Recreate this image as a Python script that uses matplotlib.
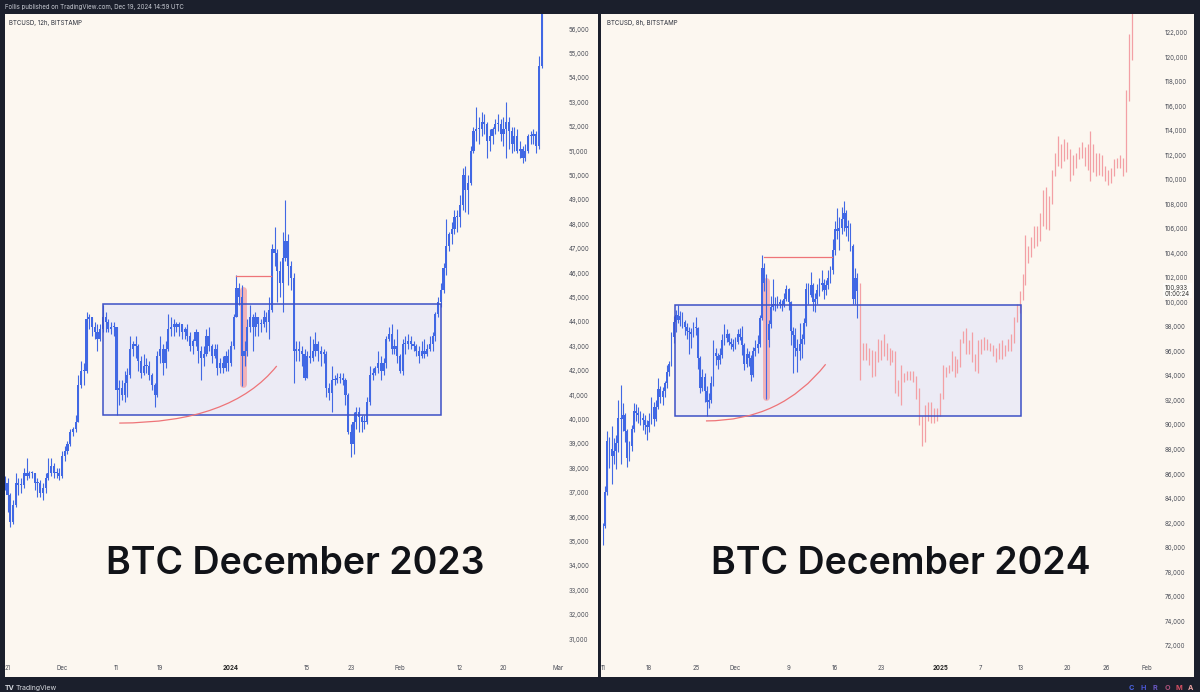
import numpy as np
import matplotlib
matplotlib.use('Agg')
import matplotlib.pyplot as plt
from matplotlib.patches import Rectangle, PathPatch
from matplotlib.path import Path
from matplotlib.transforms import blended_transform_factory

# ---------------- data (prices in thousands of USD) ----------------
# left chart: BTCUSD 12h bars, first bar opens Nov 20 12:00 (day 0 = Dec 1)
left_start_day = -10.5
left_first_open = 37.3
left_close = [
    37.4, 36.9, 35.8, 36.5, 37.4, 37.3, 37.3, 37.8, 37.7, 37.8, 37.8, 37.4, 37.4, 37.0, 37.2, 37.6, 37.8, 38.1, 37.8, 37.8, 37.7,
    38.5, 38.7, 39.0, 39.5, 39.6, 39.9, 41.4, 42.0, 42.0, 44.1, 44.2, 43.8, 43.6, 43.3, 43.7, 44.2, 44.0, 43.7, 43.8, 43.8,
    41.2, 41.3, 41.0, 41.5, 41.8, 42.9, 43.1, 43.0, 42.4, 41.9, 42.2, 42.2, 41.8, 41.4, 41.0, 42.6, 42.9, 42.3, 42.9, 43.7,
    43.8, 43.9, 43.8, 43.9, 43.6, 43.7, 43.4, 43.0, 43.2, 43.6, 42.8, 42.5, 42.7, 43.4, 43.0, 42.6, 42.9, 42.1, 42.3, 42.1,
    42.6, 42.3,
    43.0, 44.2, 45.4, 45.0, 42.6, 42.8, 43.8, 44.2, 43.8, 44.2, 43.9, 43.9, 44.2, 44.0, 44.5, 47.0, 46.8, 46.1, 45.6, 46.6,
    47.3, 46.3, 45.8, 42.8, 42.9, 42.8, 42.7, 41.7, 42.6, 42.5, 42.8, 43.1, 42.8, 42.7, 42.7, 41.3, 41.1, 41.6, 41.6, 41.7,
    41.7, 41.6, 41.0, 39.5, 39.0, 39.9, 40.3, 40.1, 39.9, 39.9, 40.7, 41.8, 41.9, 42.1, 42.3, 42.0, 42.3, 43.3, 43.5, 42.9,
    43.0, 42.6,
    42.0, 43.1, 43.1, 43.2, 43.1, 43.0, 42.8, 42.6, 42.8, 42.7, 42.9, 43.1, 43.4, 44.3, 44.8, 45.3, 46.2, 47.1, 47.6, 47.8,
    48.3, 48.3, 48.8, 50.0, 49.4, 49.7, 51.0, 51.8, 51.9, 51.9, 52.2, 52.1, 51.4, 51.6, 51.9, 52.1, 52.1, 51.7, 51.9, 52.2,
    51.8, 51.3, 51.6, 51.0, 51.1, 50.7, 51.0, 51.6, 51.6, 51.7, 51.2, 54.5, 57.0,
]
left_high = [
    37.7, 37.6, 37.0, 36.7, 37.8, 37.6, 37.6, 38.0, 38.4, 37.9, 37.9, 37.8, 37.6, 37.5, 37.4, 37.8, 38.4, 38.4, 38.2, 38.0, 38.0,
    38.7, 38.9, 39.1, 39.6, 39.7, 40.2, 41.8, 42.4, 42.3, 44.4, 44.3, 44.2, 44.0, 43.9, 43.9, 44.7, 44.4, 44.1, 44.0, 44.0,
    43.8, 41.6, 41.6, 42.0, 42.1, 43.4, 43.2, 43.4, 43.1, 42.6, 42.7, 42.5, 42.4, 41.9, 41.5, 42.8, 43.4, 43.1, 43.2, 44.3,
    44.2, 44.1, 44.0, 44.0, 43.8, 43.8, 43.9, 43.6, 43.3, 43.7, 43.6, 43.0, 43.0, 43.7, 43.8, 43.1, 43.1, 43.1, 42.5, 42.6,
    42.8, 42.9,
    43.2, 44.3, 45.9, 45.6, 45.5, 43.2, 44.1, 44.7, 44.3, 44.4, 44.2, 44.1, 44.5, 44.4, 45.0, 47.2, 47.9, 47.0, 46.5, 47.7,
    48.98, 47.6, 46.5, 46.0, 43.2, 43.2, 43.0, 42.9, 42.8, 43.4, 43.3, 43.6, 43.2, 43.0, 42.9, 42.8, 41.5, 42.2, 41.8, 41.9,
    41.9, 41.9, 41.7, 41.1, 39.8, 40.3, 40.5, 40.5, 40.2, 40.2, 40.9, 42.2, 42.1, 42.2, 42.8, 42.6, 42.5, 43.4, 43.8, 43.9,
    43.3, 43.7,
    42.7, 43.3, 43.4, 43.5, 43.4, 43.2, 43.1, 43.0, 43.2, 43.3, 43.1, 43.4, 43.6, 44.4, 45.0, 45.6, 46.4, 48.2, 47.7, 48.1,
    48.6, 48.6, 49.2, 50.3, 50.4, 50.0, 51.2, 52.0, 52.8, 52.4, 52.6, 52.5, 52.2, 51.9, 52.0, 52.3, 52.5, 52.3, 52.4, 53.0,
    52.4, 52.0, 52.0, 51.9, 51.4, 51.2, 51.3, 51.7, 51.8, 51.9, 51.8, 54.9, 57.5,
]
left_low = [
    37.1, 36.2, 35.6, 35.7, 36.4, 36.9, 37.0, 37.2, 37.5, 37.6, 37.6, 37.1, 36.8, 36.8, 36.7, 37.0, 37.5, 37.7, 37.6, 37.6, 37.5,
    37.6, 38.3, 38.6, 38.9, 39.3, 39.5, 39.9, 41.3, 41.4, 41.9, 43.7, 43.4, 43.3, 42.8, 43.2, 43.6, 43.6, 43.6, 43.5, 43.4,
    40.2, 40.6, 40.8, 40.7, 40.9, 41.7, 42.6, 42.5, 42.0, 41.7, 41.8, 41.9, 41.6, 41.2, 40.5, 40.9, 42.3, 41.8, 42.1, 42.8,
    43.4, 43.4, 43.6, 43.4, 43.3, 43.3, 43.2, 42.8, 42.7, 43.0, 42.3, 41.6, 42.2, 42.6, 42.8, 42.3, 42.5, 41.8, 41.9, 41.9,
    42.0, 42.0,
    42.2, 42.9, 44.2, 44.7, 41.35, 42.2, 42.6, 43.6, 42.8, 43.4, 43.4, 43.6, 43.8, 43.6, 43.3, 44.4, 46.3, 44.8, 45.0, 44.4,
    46.5, 45.5, 45.3, 41.5, 42.4, 42.4, 42.2, 41.6, 41.7, 42.3, 42.4, 42.6, 42.4, 42.2, 42.3, 40.9, 40.8, 40.3, 41.4, 41.5,
    41.5, 41.4, 40.6, 39.4, 38.45, 38.6, 39.6, 39.5, 39.5, 39.6, 39.8, 40.6, 41.6, 41.8, 41.9, 41.6, 41.8, 42.1, 43.2, 42.7,
    42.7, 42.3,
    41.9, 41.8, 42.7, 42.9, 42.9, 42.8, 42.6, 42.3, 42.5, 42.5, 42.6, 42.8, 42.8, 43.2, 44.2, 44.6, 45.2, 45.9, 46.9, 47.2,
    47.6, 47.7, 47.9, 48.6, 48.5, 48.4, 49.6, 50.9, 51.4, 51.3, 51.6, 51.7, 50.7, 51.0, 51.3, 51.7, 51.8, 51.4, 51.2, 50.7,
    51.1, 50.9, 51.0, 50.9, 50.7, 50.5, 50.6, 50.9, 51.3, 51.3, 50.9, 51.1, 54.4,
]

# right chart: BTCUSD 8h bars, first bar opens Nov 11 00:00 (day 0 = Dec 1)
right_start_day = -20.0
right_first_open = 80.4
right_close = [
    81.8, 84.5, 88.7, 88.0, 87.5, 87.9, 88.5, 90.6, 90.5, 90.8, 89.5, 87.3, 88.3, 89.7, 91.1, 91.0, 90.8, 90.6,
    90.4, 90.0, 89.8, 90.3, 91.5, 90.5, 91.5, 92.9, 92.3, 92.8, 93.4, 94.3, 95.0, 97.2, 98.4, 99.0, 98.6, 98.9,
    98.4, 98.0, 97.7, 97.6, 97.4, 98.0, 97.9, 95.5, 93.0, 93.9, 92.8, 91.9, 92.0, 93.4, 95.9, 95.6, 95.3, 95.7,
    96.9, 97.1, 97.4, 96.8, 96.6, 96.4,
    96.8, 97.4, 97.2, 96.5, 95.0, 95.8, 95.5, 94.1, 96.0, 96.3, 96.6, 98.7, 102.8, 101.6, 96.9, 98.2, 99.6, 99.9,
    99.8, 100.0, 99.9, 99.8, 100.3, 101.1, 100.0, 97.7, 97.3, 96.3, 96.0, 96.6, 97.0, 98.3, 101.1, 100.6, 101.4, 100.0,
    100.3, 101.0, 101.4, 101.6, 101.0, 101.4, 102.0, 102.6, 104.3, 106.0, 105.8, 106.1, 106.8, 107.3, 106.1, 106.2, 104.6, 100.3,
    102.0, 100.9,
]
right_high = [
    82.0, 85.0, 89.5, 89.0, 89.9, 88.9, 89.2, 92.0, 93.3, 91.8, 91.0, 89.7, 88.7, 90.0, 91.8, 91.7, 91.5, 91.1,
    91.0, 90.8, 90.4, 91.0, 92.3, 91.9, 92.0, 93.8, 93.2, 93.1, 93.6, 94.9, 95.2, 97.6, 98.9, 99.4, 99.8, 99.3,
    99.2, 98.6, 98.3, 98.0, 97.9, 98.4, 98.8, 98.0, 95.6, 94.6, 94.2, 93.2, 92.6, 94.0, 96.9, 96.3, 95.9, 96.3,
    97.4, 98.2, 97.8, 97.5, 97.1, 97.0,
    97.2, 97.8, 97.9, 98.1, 96.7, 96.3, 96.0, 95.7, 96.4, 96.9, 97.3, 99.0, 103.9, 103.2, 102.3, 98.6, 100.5, 101.9,
    100.4, 100.5, 100.3, 100.2, 100.8, 101.4, 101.2, 100.1, 98.0, 97.9, 97.0, 98.3, 97.4, 98.7, 101.6, 101.6, 102.5, 101.6,
    100.8, 101.5, 102.0, 102.6, 101.9, 101.8, 102.6, 103.0, 105.2, 106.6, 107.7, 107.0, 107.8, 108.3, 107.5, 106.7, 106.5, 104.8,
    102.8, 102.4,
]
right_low = [
    80.2, 81.6, 84.3, 86.5, 85.2, 86.8, 86.4, 87.8, 86.8, 89.5, 88.6, 86.6, 87.1, 87.9, 89.4, 90.3, 90.2, 90.0,
    89.6, 89.3, 88.8, 89.4, 90.1, 89.9, 90.3, 91.3, 91.8, 91.6, 92.3, 93.0, 94.0, 94.8, 96.7, 97.6, 98.3, 98.1,
    97.9, 97.3, 97.0, 95.8, 96.3, 97.2, 97.3, 94.6, 92.6, 92.8, 91.9, 90.7, 91.4, 91.8, 93.2, 94.9, 94.6, 95.0,
    95.5, 96.5, 96.8, 96.5, 96.2, 96.0,
    96.2, 96.6, 96.9, 95.7, 94.5, 94.7, 94.8, 93.6, 93.9, 95.6, 95.9, 96.4, 98.6, 100.9, 92.1, 96.4, 97.9, 99.4,
    99.3, 99.5, 99.5, 99.3, 99.6, 100.1, 99.4, 96.5, 94.2, 95.6, 94.3, 95.3, 95.5, 96.6, 98.1, 99.9, 100.4, 99.3,
    99.2, 99.9, 100.5, 100.9, 100.3, 100.6, 101.1, 101.6, 102.3, 103.9, 105.2, 104.3, 105.6, 105.8, 105.4, 105.0, 104.2, 99.9,
    99.9, 98.7,
]

# right chart: projected bars pattern (pink), one bar per step from Dec 19 ~18:40
proj_start_day = 18.78
proj_step = 0.4457
proj_high = [
    101.6, 96.7, 96.7, 96.3, 96.1, 96.0, 97.0, 96.9, 97.4, 96.7, 96.3, 96.1, 96.0, 93.7, 94.9, 94.2, 94.4, 94.4, 94.4, 94.0,
    93.0, 90.7, 91.6, 91.9, 91.9, 91.4, 91.4, 92.6, 94.9, 94.7, 94.9, 96.0, 95.6, 95.4, 97.0, 97.7, 97.9, 96.9, 97.6, 95.8,
    96.9, 97.0, 97.2, 97.0, 96.7, 96.5, 96.3, 96.7, 96.9, 96.5, 97.0, 97.4, 98.8, 99.9, 100.9, 102.3, 105.5, 104.6, 105.3, 106.2,
    106.2, 107.3, 109.2, 109.4, 108.7, 110.8, 112.2, 113.6, 112.9, 113.3, 113.1, 112.5, 112.0, 112.2, 112.7, 113.1, 112.7, 112.9, 114.0, 112.9,
    112.2, 112.2, 112.0, 111.1, 110.8, 111.0, 111.7, 111.8, 112.0, 111.8, 117.3, 121.9, 125.0,
]
proj_low = [
    93.7, 95.3, 95.3, 94.9, 93.9, 94.0, 95.1, 95.3, 95.6, 95.3, 94.9, 95.1, 92.6, 92.4, 91.6, 93.5, 93.7, 93.7, 93.5, 92.1,
    90.0, 88.3, 88.6, 90.3, 90.2, 90.2, 90.3, 90.7, 92.1, 93.9, 94.2, 94.4, 93.9, 94.2, 94.7, 96.7, 95.8, 95.8, 95.1, 94.4,
    94.2, 95.8, 96.1, 96.1, 96.0, 95.6, 95.1, 95.4, 95.4, 95.6, 96.0, 96.0, 96.7, 98.4, 99.1, 100.2, 101.4, 103.2, 103.7, 104.4,
    104.6, 105.0, 106.2, 106.0, 105.9, 108.0, 110.3, 111.1, 111.0, 111.5, 111.7, 109.9, 110.4, 111.0, 111.7, 111.8, 111.1, 110.8, 109.9, 110.6,
    110.3, 110.4, 110.3, 109.9, 109.6, 109.7, 110.3, 111.0, 111.0, 110.3, 110.6, 116.4, 119.8,
]

# drawings (day, price)
left_box = (7.5, 69.5, 40.17, 44.71)
right_box = (-9.1, 43.1, 90.7, 99.79)
left_level = (31.9, 38.3, 45.89)
right_level = (4.3, 14.55, 103.7)
left_mark = (33.3, 41.47, 45.29)
right_mark = (4.6, 92.25, 101.78)
left_arc = [(10.5, 39.85), (31.0, 39.85), (39.4, 42.19)]
right_arc = [(-4.45, 90.33), (6.9, 90.33), (13.6, 94.95)]

left_ticks = [(-10, '21'), (0, 'Dec'), (10, '11'), (18, '19'), (31, '2024'), (45, '15'), (53, '23'),
              (62, 'Feb'), (73, '12'), (81, '20'), (91, 'Mar')]
right_ticks = [(-20, '11'), (-13, '18'), (-6, '25'), (0, 'Dec'), (8, '9'), (15, '16'), (22, '23'),
               (31, '2025'), (37, '7'), (43, '13'), (50, '20'), (56, '26'), (62, 'Feb')]
left_price_ticks = list(range(31, 57))
right_price_ticks = list(range(72, 123, 2))

# ---------------- style ----------------
DARK = '#1b1f2c'
CREAM = '#fcf7f0'
BLUE = '#4168e4'
PINK = '#f3a0a5'
RED = '#ee7478'
BOXBLUE = '#3d50c6'
LAV = '#ecebf5'
TXT = '#4a4d57'
FONT = ['Inter', 'DejaVu Sans']

W, H = 1200, 692
fig = plt.figure(figsize=(12, 6.92), dpi=100, facecolor=DARK)


def px(x0, y0, x1, y1):
    return [x0 / W, 1 - y1 / H, (x1 - x0) / W, (y1 - y0) / H]


def fig_rect(x0, y0, x1, y1, color, z):
    r = px(x0, y0, x1, y1)
    fig.add_artist(Rectangle((r[0], r[1]), r[2], r[3], transform=fig.transFigure,
                             facecolor=color, edgecolor='none', zorder=z))


fig_rect(4.7, 14, 598.3, 677, CREAM, -5)
fig_rect(600.7, 14, 1194.3, 677, CREAM, -5)
for strip in [(0, 0, 4.7, 692), (598.3, 0, 600.7, 692), (1194.3, 0, 1200, 692),
              (0, 0, 1200, 14), (0, 677, 1200, 692)]:
    fig_rect(*strip, DARK, 10)


def candles(ax, start, step, first_open, c, h, l, width, minh):
    c = np.array(c)
    o = np.r_[first_open, c[:-1]]
    x = start + step * np.arange(len(c))
    hi = np.maximum(np.array(h), np.maximum(o, c))
    lo = np.minimum(np.array(l), np.minimum(o, c))
    ax.vlines(x, lo, hi, color=BLUE, lw=0.8, zorder=3)
    body = np.maximum(np.abs(c - o), minh)
    ax.bar(x, body, bottom=np.minimum(o, c), width=width, color=BLUE,
           edgecolor='none', zorder=3)


def setup(ax, xlim, ylim, price_ticks, ticks):
    ax.set_facecolor('none')
    ax.set_xlim(*xlim)
    ax.set_ylim(*ylim)
    for s in ax.spines.values():
        s.set_visible(False)
    ax.set_xticks([])
    ax.yaxis.tick_right()
    ax.set_yticks(price_ticks)
    ax.set_yticklabels([f'{v * 1000:,.0f}' for v in price_ticks])
    ax.tick_params(axis='y', length=0, pad=5, labelsize=4.4, labelcolor=TXT)
    for lab in ax.get_yticklabels():
        lab.set_family(FONT)
    tr = blended_transform_factory(ax.transData, ax.transAxes)
    for d, t in ticks:
        bold = t in ('2024', '2025')
        ax.text(d, -0.0125, t, transform=tr, ha='center', va='center', fontsize=4.4,
                color='#222' if bold else TXT, weight='bold' if bold else 'normal',
                family=FONT, clip_on=False)


def drawings(ax, box, level, mark, arc, mark_lw):
    x0, x1, y0, y1 = box
    ax.add_patch(Rectangle((x0, y0), x1 - x0, y1 - y0, facecolor=LAV, edgecolor='none', zorder=1))
    ax.add_patch(Rectangle((x0, y0), x1 - x0, y1 - y0, facecolor='none', edgecolor=BOXBLUE,
                           lw=1.1, zorder=4))
    ax.plot([level[0], level[1]], [level[2], level[2]], color=RED, lw=0.9, zorder=4)
    ax.plot([mark[0], mark[0]], [mark[1], mark[2]], color=PINK, lw=mark_lw, alpha=0.75,
            solid_capstyle='round', zorder=2)
    path = Path(arc, [Path.MOVETO, Path.CURVE3, Path.CURVE3])
    ax.add_patch(PathPatch(path, facecolor='none', edgecolor=RED, lw=0.9, zorder=4))


axL = fig.add_axes(px(5, 14, 562, 660))
setup(axL, (-10.46, 91.74), (30.14, 56.615), left_price_ticks, left_ticks)
drawings(axL, left_box, left_level, left_mark, left_arc, 5.0)
candles(axL, left_start_day, 0.5, left_first_open, left_close, left_high, left_low, 0.4, 0.045)

axR = fig.add_axes(px(603, 14, 1158, 660))
setup(axR, (-19.98, 63.73), (70.83, 123.52), right_price_ticks, right_ticks)
drawings(axR, right_box, right_level, right_mark, right_arc, 5.0)
candles(axR, right_start_day, 1 / 3, right_first_open, right_close, right_high, right_low, 0.26, 0.09)
xp = proj_start_day + proj_step * np.arange(len(proj_high))
axR.vlines(xp, proj_low, proj_high, color=PINK, lw=0.9, zorder=3)

# last price label
axR.annotate('100,933\n01:00:24', xy=(1.0, 100.933), xycoords=('axes fraction', 'data'),
             xytext=(5, 0), textcoords='offset points', ha='left', va='center',
             fontsize=4.4, color='#333', family=FONT, linespacing=1.0,
             bbox=dict(boxstyle='square,pad=0.25', fc='#fdfbf7', ec='none'), zorder=6,
             annotation_clip=False)

# big titles
for cx, txt in [(295, 'BTC December 2023'), (901, 'BTC December 2024')]:
    fig.text(cx / W, 1 - 564 / H, txt, ha='center', va='center', fontsize=27,
             family=FONT, weight='semibold', color='#111318', zorder=6)

# chart headers
fig.text(9 / W, 1 - 22.5 / H, 'BTCUSD, 12h, BITSTAMP', ha='left', va='center', fontsize=4.4,
         color='#2a2e39', family=FONT, zorder=6)
fig.text(607 / W, 1 - 22.5 / H, 'BTCUSD, 8h, BITSTAMP', ha='left', va='center', fontsize=4.4,
         color='#2a2e39', family=FONT, zorder=6)

# top / bottom bars
fig.text(5 / W, 1 - 7.3 / H, 'Follis published on TradingView.com, Dec 19, 2024 14:59 UTC',
         ha='left', va='center', fontsize=4.4, color='#c9ccd4', family=FONT, zorder=11)
fig.text(5 / W, 1 - 688 / H, 'TV', ha='left', va='center', fontsize=5, weight='bold',
         color='#d6d8de', family=FONT, zorder=11)
fig.text(16 / W, 1 - 688 / H, 'TradingView', ha='left', va='center', fontsize=5,
         color='#d6d8de', family=FONT, zorder=11)
for x, ch, col in [(1131, 'C', '#4b63e0'), (1143, 'H', '#4a55d2'), (1155, 'R', '#6b58c4'),
                   (1167, 'O', '#a85078'), (1179, 'M', '#d34f62'), (1191, 'A', '#eaa3a3')]:
    fig.text(x / W, 1 - 688 / H, ch, ha='center', va='center', fontsize=5.2, weight='bold',
             color=col, family=FONT, zorder=11)

fig.savefig('out.png', dpi=100, facecolor=DARK)
